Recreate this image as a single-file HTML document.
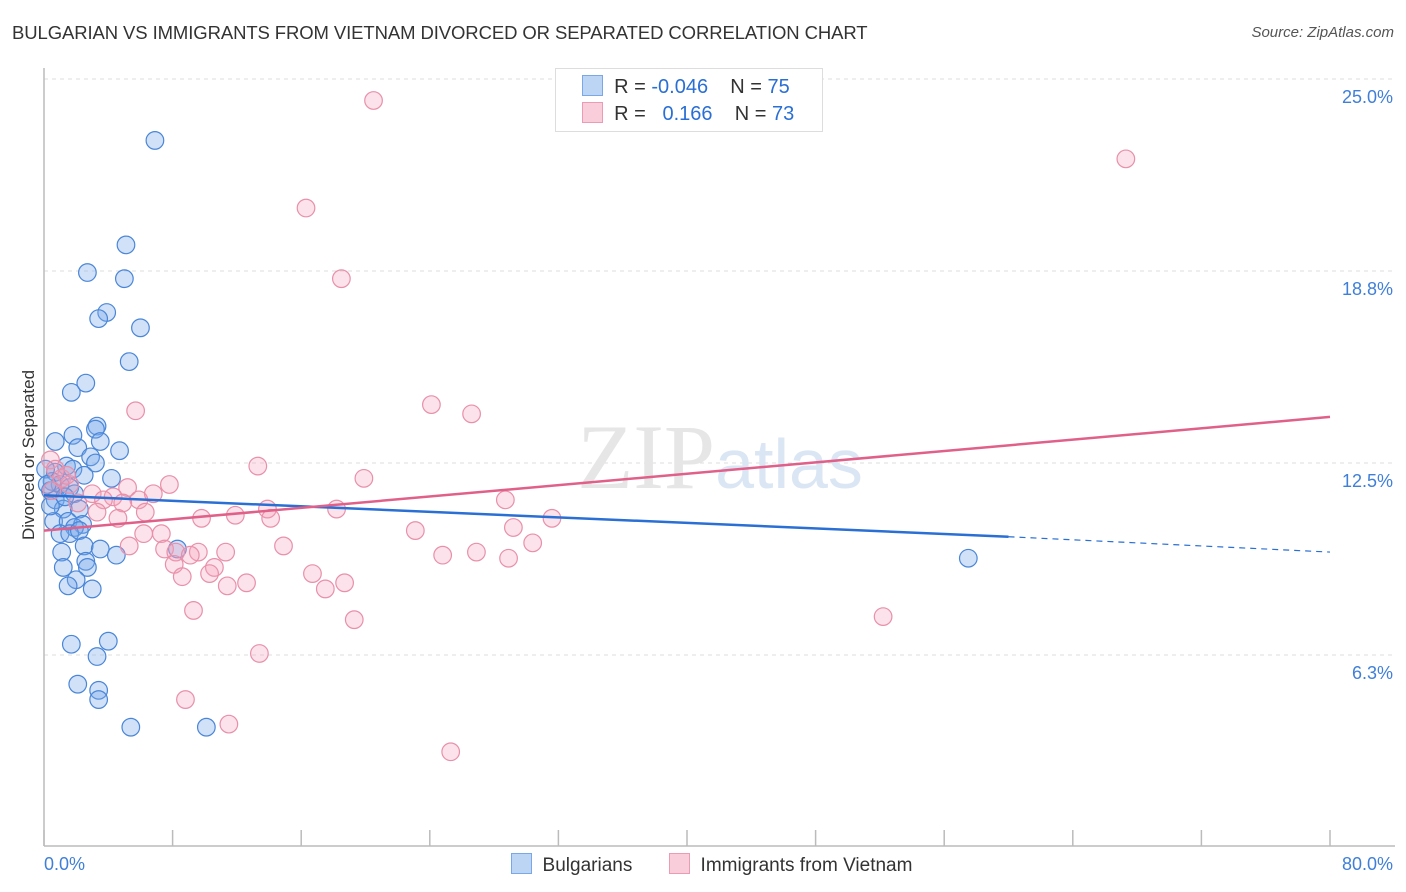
<!DOCTYPE html>
<html><head><meta charset="utf-8"><style>
body{margin:0;background:#fff;font-family:"Liberation Sans",sans-serif}
#wrap{position:relative;width:1406px;height:892px;overflow:hidden}
.t{position:absolute;white-space:nowrap}
</style></head><body>
<div id="wrap">
<div class="t" style="left:12px;top:22px;font-size:18.5px;color:#333;letter-spacing:-0.1px">BULGARIAN VS IMMIGRANTS FROM VIETNAM DIVORCED OR SEPARATED CORRELATION CHART</div>
<div class="t" style="right:12px;top:24px;font-size:15px;color:#555;font-style:italic">Source: ZipAtlas.com</div>
<svg id="svg" width="1406" height="892" style="position:absolute;left:0;top:0"></svg>
</div>
<script>
const yTicks=[6.25,12.5,18.75,25];
const yTickLabels=["6.3%","12.5%","18.8%","25.0%"];
const xTickVals=[0,8,16,24,32,40,48,56,64,72,80];
const blueX=[6.9,5.1,2.7,5.0,3.9,3.4,6.0,5.3,2.6,1.7,3.3,3.2,1.8,0.7,3.5,4.7,2.1,2.9,3.2,1.4,1.8,4.2,2.5,0.7,0.5,1.0,1.6,0.4,1.9,0.7,1.2,2.2,0.6,1.5,2.4,1.9,1.0,1.6,2.2,1.1,2.5,3.5,4.5,2.6,2.7,1.2,2.0,1.5,3.0,8.3,57.5,4.0,1.7,3.3,2.1,3.4,3.4,5.4,10.1,0.1,0.2,0.4,1.3];
const blueY=[23.0,19.6,18.7,18.5,17.4,17.2,16.9,15.8,15.1,14.8,13.7,13.6,13.4,13.2,13.2,12.9,13.0,12.7,12.5,12.4,12.3,12.0,12.1,12.2,11.9,11.8,11.7,11.6,11.5,11.3,11.0,11.0,10.6,10.6,10.5,10.4,10.2,10.2,10.3,9.6,9.8,9.7,9.5,9.3,9.1,9.1,8.7,8.5,8.4,9.7,9.4,6.7,6.6,6.2,5.3,5.1,4.8,3.9,3.9,12.3,11.8,11.1,11.4];
const pinkX=[20.5,67.3,16.3,18.5,5.7,24.1,26.6,13.3,19.9,7.8,5.2,6.8,3.0,4.3,3.7,5.9,4.9,2.1,28.7,13.9,18.2,6.3,3.3,11.9,4.6,14.1,9.8,31.6,29.2,23.1,6.2,7.3,5.3,14.9,30.4,7.5,8.2,9.6,11.3,24.8,26.9,28.9,9.1,8.1,10.6,10.3,8.6,16.7,11.4,12.6,18.7,17.5,9.3,19.3,52.2,13.4,8.8,11.5,25.3,0.4,0.7,1.1,1.6,0.5,1.4];
const pinkY=[24.3,22.4,20.8,18.5,14.2,14.4,14.1,12.4,12.0,11.8,11.7,11.5,11.5,11.4,11.3,11.3,11.2,11.2,11.3,11.0,11.0,10.9,10.9,10.8,10.7,10.7,10.7,10.7,10.4,10.3,10.2,10.2,9.8,9.8,9.9,9.7,9.6,9.6,9.6,9.5,9.6,9.4,9.5,9.2,9.1,8.9,8.8,8.9,8.5,8.6,8.6,8.4,7.7,7.4,7.5,6.3,4.8,4.0,3.1,12.6,12.3,12.0,11.8,11.6,12.1];
const blueTrendX=[0,60,80];
const blueTrendY=[11.45,10.1,9.6];
const pinkTrendX=[0,80];
const pinkTrendY=[10.3,14.0];

const L=44,R=1330,T=79,B=847;
const sx=v=>L+(v/80)*(R-L);
const sy=v=>B-(v/25)*(B-T);
const svg=document.getElementById('svg');
const NS='http://www.w3.org/2000/svg';
function mk(tag,attrs,parent){const e=document.createElementNS(NS,tag);for(const k in attrs)e.setAttribute(k,attrs[k]);(parent||svg).appendChild(e);return e;}

yTicks.forEach((v,i)=>{
  const g=mk('line',{x1:L,x2:1395,y1:sy(v),y2:sy(v),stroke:'#ddd','stroke-dasharray':'4,4'});
  
  
  const t=mk('text',{x:1393,y:sy(v)+24,'text-anchor':'end','font-size':18,fill:'#3f7fd8','font-family':'Liberation Sans, sans-serif'});
  t.textContent=yTickLabels[i];
  
  
});
const ax=mk('line',{x1:L,x2:L,y1:68,y2:846,stroke:'#bbb','stroke-width':1.5});


const bx=mk('line',{x1:L,x2:1395,y1:846,y2:846,stroke:'#bbb','stroke-width':1.5});


xTickVals.forEach(v=>{
  const t=mk('line',{x1:sx(v),x2:sx(v),y1:830,y2:846,stroke:'#bbb','stroke-width':1.5});
  
  
});
[['0.0%',44,'start'],['80.0%',1393,'end']].forEach(([s,x,a])=>{
  const t=mk('text',{x:x,y:870,'text-anchor':a,'font-size':18,fill:'#3f7fd8','font-family':'Liberation Sans, sans-serif'});
  t.textContent=s;
  
  
});
const yt=mk('text',{x:34,y:455,'text-anchor':'middle','font-size':17,fill:'#333',transform:'rotate(-90 34 455)','font-family':'Liberation Sans, sans-serif'});
yt.textContent='Divorced or Separated';


const wm=mk('text',{x:720,y:488,'text-anchor':'middle','font-size':92,fill:'#e6e6e6','font-family':'Liberation Serif, serif'});
wm.innerHTML='ZIP<tspan fill="#dbe6f4" font-family="Liberation Sans, sans-serif" font-size="70">atlas</tspan>';



blueX.forEach((x,i)=>{
  const c=mk('circle',{cx:sx(x),cy:sy(blueY[i]),r:8.8,fill:'rgba(120,170,235,0.35)',stroke:'#4a86d8','stroke-width':1.2});
  
  
});
pinkX.forEach((x,i)=>{
  const c=mk('circle',{cx:sx(x),cy:sy(pinkY[i]),r:8.8,fill:'rgba(245,160,185,0.3)',stroke:'#e890aa','stroke-width':1.2});
  
  
});
const bt=mk('line',{x1:sx(blueTrendX[0]),y1:sy(blueTrendY[0]),x2:sx(blueTrendX[1]),y2:sy(blueTrendY[1]),stroke:'#2a6fd4','stroke-width':2.5});


const bd=mk('line',{x1:sx(blueTrendX[1]),y1:sy(blueTrendY[1]),x2:sx(blueTrendX[2]),y2:sy(blueTrendY[2]),stroke:'#2a6fd4','stroke-width':1.2,'stroke-dasharray':'6,5'});


const pt=mk('line',{x1:sx(pinkTrendX[0]),y1:sy(pinkTrendY[0]),x2:sx(pinkTrendX[1]),y2:sy(pinkTrendY[1]),stroke:'#e0608a','stroke-width':2.5});


</script>
<div class="t" style="left:555px;top:68px;width:266px;height:62px;border:1px solid #ddd;background:#fff;font-size:20px;color:#333">
  <div style="position:absolute;left:26px;top:6px"><span style="display:inline-block;width:19px;height:19px;background:#bcd5f5;border:1px solid #7aa8e6;vertical-align:-3px"></span>&nbsp; R = <span style="color:#2a6fd4">-0.046</span>&nbsp;&nbsp;&nbsp; N = <span style="color:#2a6fd4">75</span></div>
  <div style="position:absolute;left:26px;top:33px"><span style="display:inline-block;width:19px;height:19px;background:#f9cdd9;border:1px solid #ec9bb4;vertical-align:-3px"></span>&nbsp; R = &nbsp;&nbsp;<span style="color:#2a6fd4">0.166</span>&nbsp;&nbsp;&nbsp; N = <span style="color:#2a6fd4">73</span></div>
</div>
<div class="t" style="left:511px;top:853px;font-size:19px;color:#333"><span style="display:inline-block;width:19px;height:19px;background:#bcd5f5;border:1px solid #7aa8e6;vertical-align:-3px"></span>&nbsp; Bulgarians</div>
<div class="t" style="left:669px;top:853px;font-size:19px;color:#333"><span style="display:inline-block;width:19px;height:19px;background:#f9cdd9;border:1px solid #ec9bb4;vertical-align:-3px"></span>&nbsp; Immigrants from Vietnam</div>
</body></html>
